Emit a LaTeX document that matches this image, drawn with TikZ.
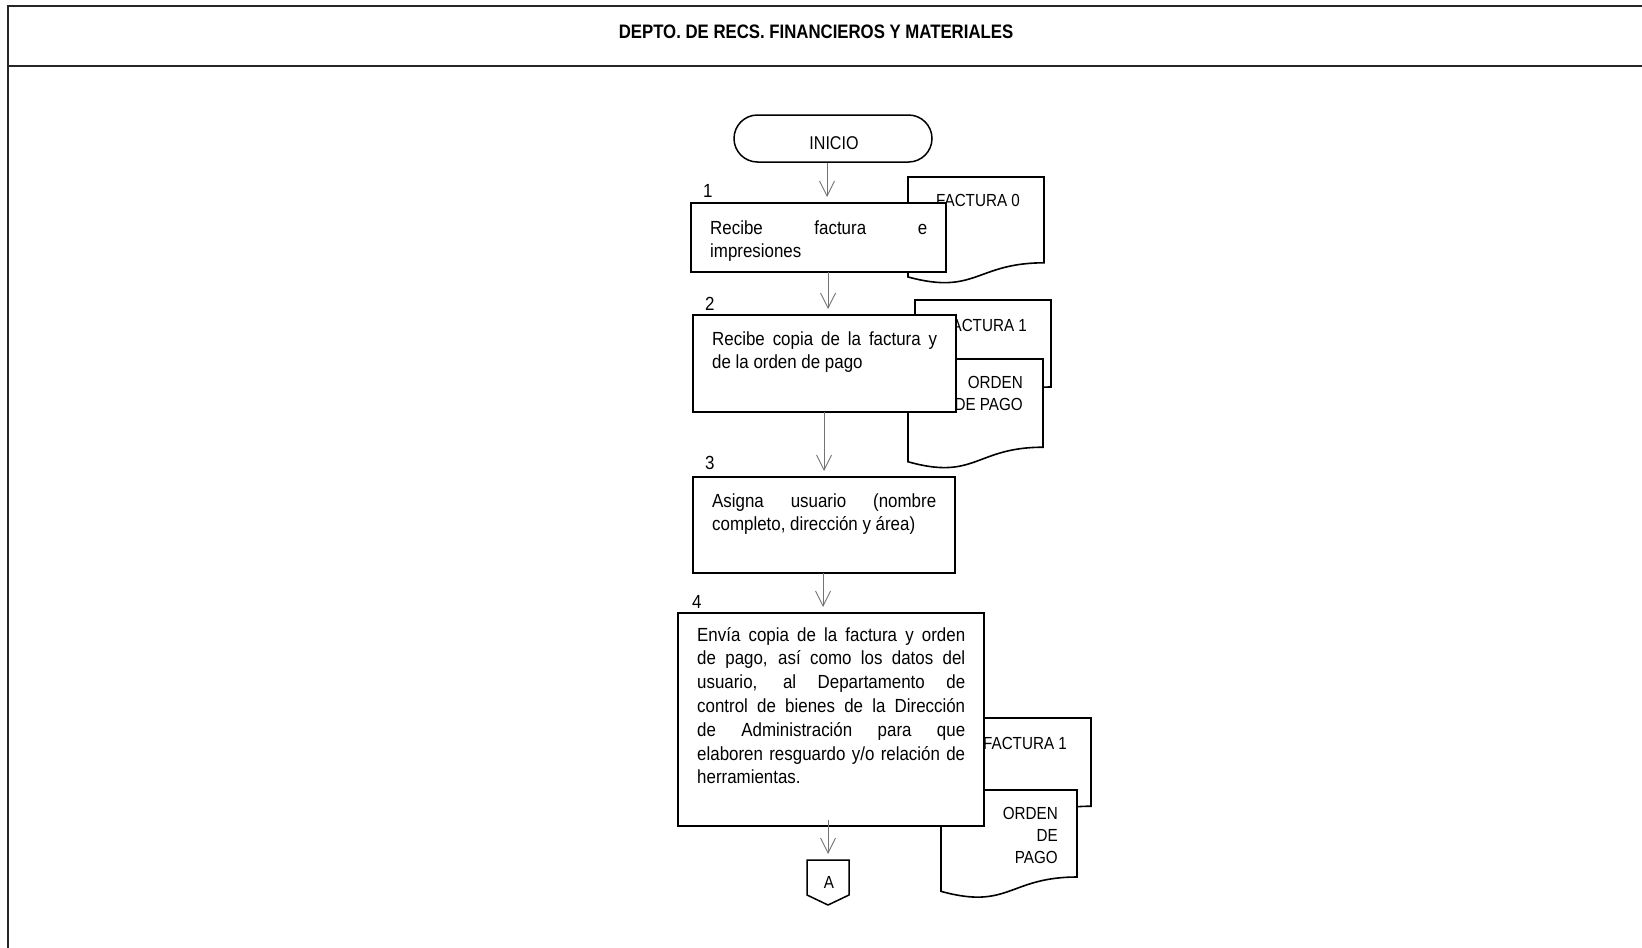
\documentclass[tikz,border=0pt]{standalone}
\usepackage{fontspec}
\setmainfont{Liberation Sans}[FakeStretch=0.89]
\newfontfamily\headfont{Liberation Sans}[FakeStretch=0.86]
\newfontfamily\docfont{Liberation Sans}[FakeStretch=0.87]
\usetikzlibrary{arrows.meta,calc}

% document symbol: top-left corner (x,y), width w, height h, wavy bottom edge
\newcommand\docsheet[4]{%
  \draw[sheet] (#1,#2) -- (#1+#3,#2) -- (#1+#3,#2+0.802*#4)
    .. controls (#1+0.5*#3,#2+0.802*#4) and (#1+0.5*#3,#2+1.1075*#4)
    .. (#1,#2+0.934*#4) -- cycle;}

\begin{document}
\begin{tikzpicture}[x=1pt,y=-1pt,
  frame/.style={line width=2.2pt,black!85},
  stepbox/.style={draw,line width=1.6pt,fill=white,rectangle,inner sep=0pt,outer sep=0pt,anchor=north west},
  sheet/.style={draw,line width=1.6pt,fill=white},
  flow/.style={draw=black!55,line width=0.9pt,-{Straight Barb[length=15pt,width=15pt]},shorten >=6pt},
  body/.style={inner sep=0pt,anchor=base west,font=\fontsize{19}{23.8}\selectfont},
  num/.style={inner sep=0pt,anchor=base west,font=\fontsize{19}{23.8}\selectfont},
  doclabel/.style={inner sep=0pt,anchor=base,font=\docfont\fontsize{17.5}{21.7}\selectfont},
  docright/.style={inner sep=0pt,anchor=base east,align=right,font=\docfont\fontsize{17.5}{21.7}\selectfont},
]
\useasboundingbox (0,0) rectangle (1642,948);

% page frame and header band
\draw[frame] (7,6) -- (1642,6);
\draw[frame] (7,66) -- (1642,66);
\draw[frame] (8,5) -- (8,948);
\node[inner sep=0pt,anchor=base,font=\headfont\bfseries\fontsize{19.5}{22}\selectfont] (head) at (816,38)
  {DEPTO. DE RECS. FINANCIEROS Y MATERIALES};

% start terminal
\node[draw,line width=1.5pt,rounded corners=23.5pt,minimum width=198pt,minimum height=47pt,inner sep=0pt] (t) at (833,138.5) {};
\node[inner sep=0pt,anchor=base,font=\docfont\fontsize{18.5}{23}\selectfont] (ti) at (834,149.5) {INICIO};

% documents behind the steps
\docsheet{908}{177}{136}{107}
\node[doclabel] (d0) at (978,206) {FACTURA 0};

\docsheet{915}{300}{136}{108.5}
\node[doclabel] (d1) at (985,331) {FACTURA 1};
\docsheet{908}{359}{135}{110}
\node[docright] (d2) at (1023,410) {ORDEN\\DE PAGO};

\docsheet{955}{718}{136}{110}
\node[doclabel] (d3) at (1025,749) {FACTURA 1};
\docsheet{941}{790}{136}{108.5}
\node[docright] (d4) at (1058,863) {ORDEN\\DE\\PAGO};

% process steps
\node[stepbox,minimum width=255pt,minimum height=69pt] (b1) at (691,203) {};
\node[num] (n1) at (703,197) {1};
\node[body] (x1) at (710,234) {\parbox[t]{217pt}{Recibe factura e\linebreak impresiones}};

\node[stepbox,minimum width=263pt,minimum height=97pt] (b2) at (693,315) {};
\node[num] (n2) at (705,310) {2};
\node[body] (x2) at (712,345) {\parbox[t]{225pt}{Recibe copia de la factura y\linebreak de la orden de pago}};

\node[stepbox,minimum width=262pt,minimum height=96pt] (b3) at (693,477) {};
\node[num] (n3) at (705,469) {3};
\node[body] (x3) at (712,507) {\parbox[t]{224pt}{Asigna usuario (nombre\linebreak completo, dirección y área)}};

\node[stepbox,minimum width=306pt,minimum height=213pt] (b4) at (678,613) {};
\node[num] (n4) at (692,608) {4};
\node[body] (x4) at (697,641) {\parbox[t]{268pt}{Envía copia de la factura y orden\linebreak
 de pago, así como los datos del\linebreak
 usuario, al Departamento de\linebreak
 control de bienes de la Dirección\linebreak
 de Administración para que\linebreak
 elaboren resguardo y/o relación de\linebreak
 herramientas.}};

% off-page connector
\coordinate (ca) at (828,860);
\draw[line width=1.5pt,fill=white] (807,860) -- (849,860) -- (849,895) -- (828,905) -- (807,895) -- cycle;
\node[inner sep=0pt,anchor=base,font=\docfont\fontsize{17.5}{22}\selectfont] (pa) at (829,888) {A};

% flow connectors
\coordinate (c0) at (827,0);
\coordinate (c1) at (828,0);
\coordinate (c2) at (824,0);
\coordinate (c3) at (823,0);
\coordinate (c4) at (828,0);
\draw[flow] (t.south -| c0) -- (b1.north -| c0);
\draw[flow] (b1.south -| c1) -- (b2.north -| c1);
\draw[flow] (b2.south -| c2) -- (b3.north -| c2);
\draw[flow] (b3.south -| c3) -- (b4.north -| c3);
\draw[flow] ([yshift=6pt]b4.south -| c4) -- (ca);
\end{tikzpicture}
\end{document}
